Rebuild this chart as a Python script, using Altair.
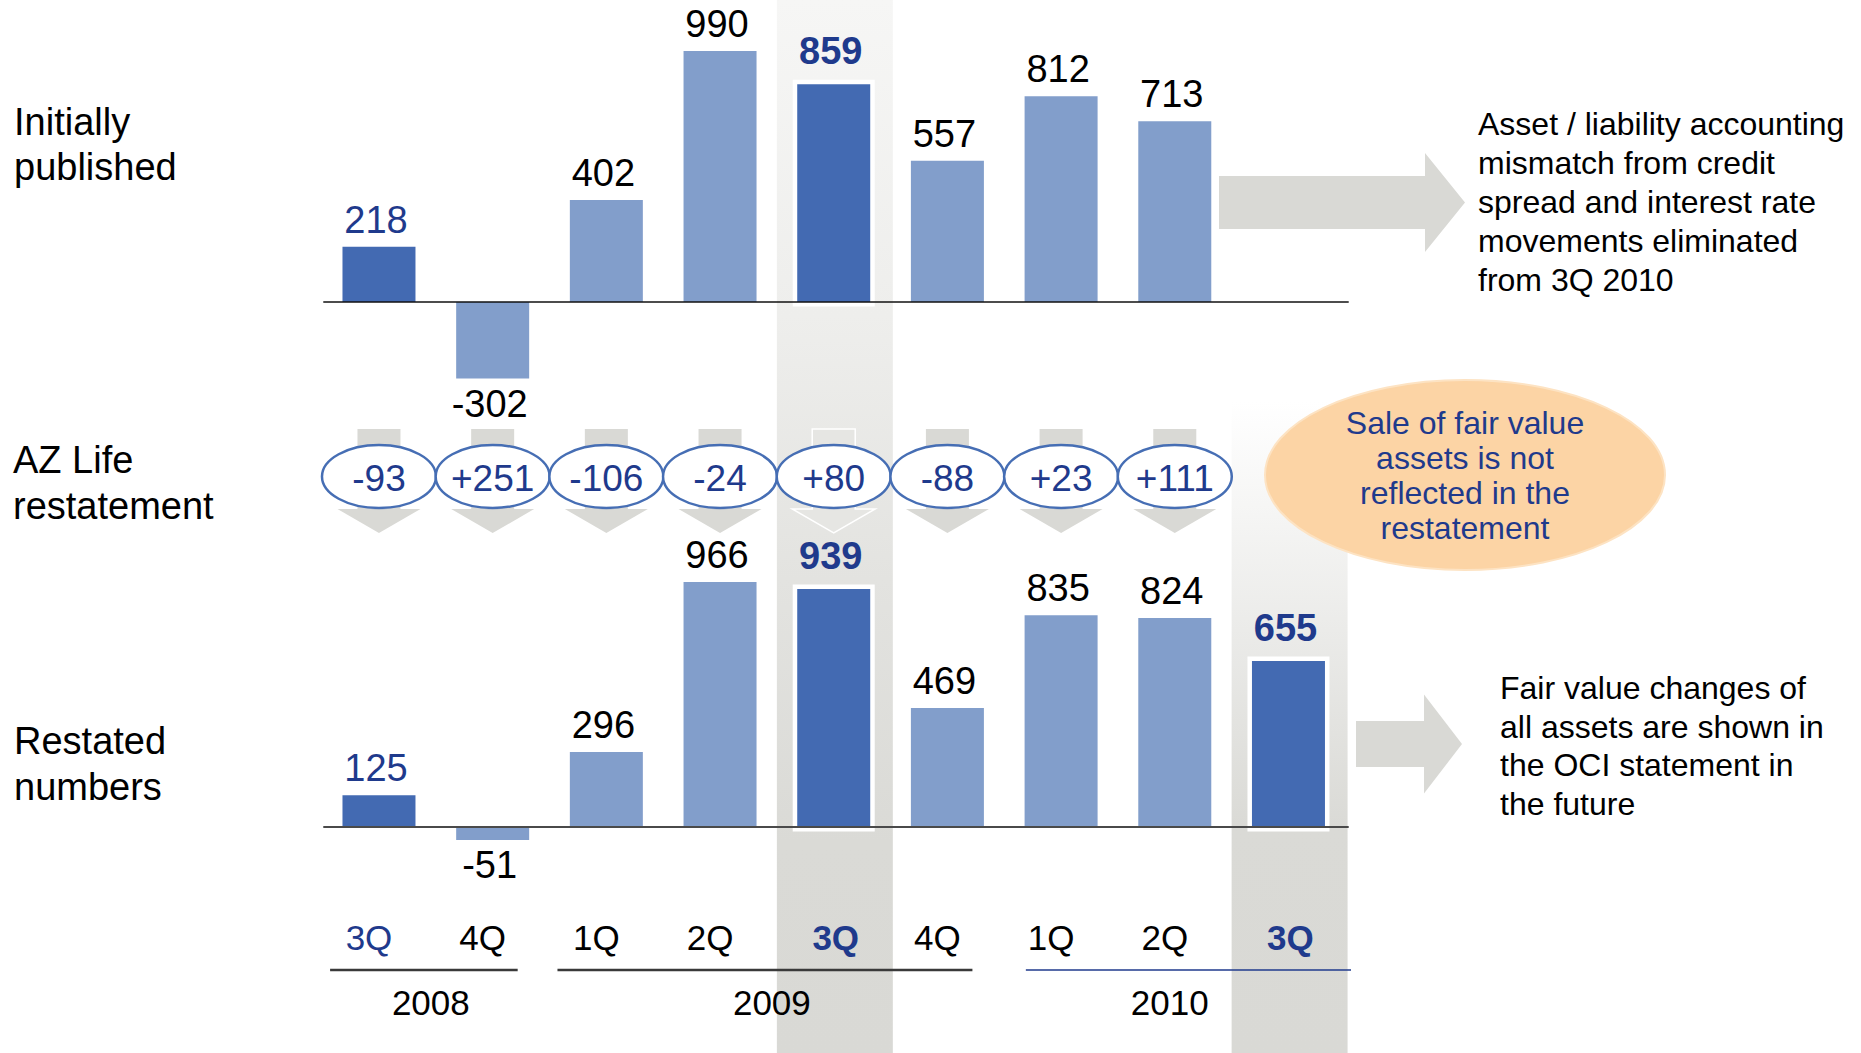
import altair as alt
import pandas as pd

# ---- data -------------------------------------------------------------
quarters = ["3Q", "4Q", "1Q", "2Q", "3Q", "4Q", "1Q", "2Q", "3Q"]
years = ["2008", "2008", "2009", "2009", "2009", "2009", "2010", "2010", "2010"]
initially_published = [218, -302, 402, 990, 859, 557, 812, 713, None]
az_life_restatement = [-93, 251, -106, -24, 80, -88, 23, 111, None]
restated_numbers = [125, -51, 296, 966, 939, 469, 835, 824, 655]
in_focus = [False, False, False, False, True, False, False, False, True]
current_year = "2010"

row_titles = ["Initially\npublished", "AZ Life\nrestatement", "Restated\nnumbers"]
note_top = ("Asset / liability accounting\nmismatch from credit\nspread and interest rate\n"
            "movements eliminated\nfrom 3Q 2010")
note_bubble = "Sale of fair value\nassets is not\nreflected in the\nrestatement"
note_bottom = "Fair value changes of\nall assets are shown in\nthe OCI statement in\nthe future"


def as_label(v, signed=False):
    if v is None:
        return ""
    return f"{int(v):+d}" if signed else str(int(v))


df = pd.DataFrame({
    "i": list(range(len(quarters))),
    "q": quarters,
    "year": years,
    "published": initially_published,
    "restate": az_life_restatement,
    "restated": restated_numbers,
    "focus": in_focus,
    "published_lbl": [as_label(v) for v in initially_published],
    "restate_lbl": [as_label(v, True) for v in az_life_restatement],
    "restated_lbl": [as_label(v) for v in restated_numbers],
})

# ---- styling ----------------------------------------------------------
W, H = 1861, 1053
FONT = "Liberation Sans"
DARK = "#436ab2"
LIGHT = "#829ecb"
NAVY = "#1f3a8c"
ARROW_GRAY = "#d9d9d5"
PEACH = "#fcd4a5"

STEP, X0 = 114.3, 376          # pixel spacing of the quarter slots
PX_PER_UNIT = 0.2535           # shared value scale of both bar panels
TOP_BASE, BOT_BASE = 302, 827  # zero lines of the two panels
# the lower panel sits this many value units below the upper one
PANEL_SHIFT = round((BOT_BASE - TOP_BASE) / PX_PER_UNIT, 3)

x_scale = alt.Scale(domain=[-X0 / STEP, (W - X0) / STEP], nice=False, zero=False)
y_scale = alt.Scale(domain=[-(H - TOP_BASE) / PX_PER_UNIT, TOP_BASE / PX_PER_UNIT],
                    nice=False, zero=False)
X = alt.X("i:Q", scale=x_scale, axis=None)

base = alt.Chart(df)
one_row = alt.Chart(pd.DataFrame({"z": [0]}))


def test(expr):
    return {"test": expr}


IS_3Q = test("datum.q == '3Q'")
IN_FOCUS = test("datum.focus")


def bar_panel(field, shift, rule_color, rule_width):
    src = base.transform_filter(f"isValid(datum.{field})").transform_calculate(
        v=f"datum.{field} - {shift}", base0=f"0 - {shift}"
    )
    Y = alt.Y("v:Q", scale=y_scale, axis=None)
    Y2 = alt.Y2("base0:Q")
    halo = src.transform_filter("datum.focus").mark_bar(
        size=73, fill="white", stroke="white", strokeWidth=9
    ).encode(x=X, y=Y, y2=Y2)
    bars = src.mark_bar(size=73).encode(
        x=X, y=Y, y2=Y2,
        color=alt.condition(IS_3Q, alt.value(DARK), alt.value(LIGHT)),
    )
    # zero line spanning all quarter slots
    zero = base.transform_aggregate(lo="min(i)", hi="max(i)").transform_calculate(
        left="datum.lo - 0.49", right="datum.hi + 0.53", base0=f"0 - {shift}"
    ).mark_rule(color=rule_color, strokeWidth=rule_width).encode(
        x=alt.X("left:Q", scale=x_scale, axis=None), x2=alt.X2("right:Q"),
        y=alt.Y("base0:Q", scale=y_scale, axis=None),
    )
    text_kw = dict(font=FONT, fontSize=38, align="center", baseline="alphabetic", dx=-3)
    lbl_pos = src.transform_filter(f"!datum.focus && datum.{field} >= 0").mark_text(
        dy=-14, **text_kw
    ).encode(x=X, y=Y, text=f"{field}_lbl:N",
             color=alt.condition(IS_3Q, alt.value(NAVY), alt.value("black")))
    lbl_focus = src.transform_filter(f"datum.focus && datum.{field} >= 0").mark_text(
        dy=-20, fontWeight="bold", color=NAVY, **text_kw
    ).encode(x=X, y=Y, text=f"{field}_lbl:N")
    lbl_neg = src.transform_filter(f"datum.{field} < 0").mark_text(
        dy=38, color="black", **text_kw
    ).encode(x=X, y=Y, text=f"{field}_lbl:N")
    return [halo, bars, zero, lbl_pos, lbl_focus, lbl_neg]


def ellipse_path(ry):
    c = 0.5523
    return (f"M1,0C1,{c*ry:.4f} {c:.4f},{ry:.4f} 0,{ry:.4f}"
            f"C{-c:.4f},{ry:.4f} -1,{c*ry:.4f} -1,0"
            f"C-1,{-c*ry:.4f} {-c:.4f},{-ry:.4f} 0,{-ry:.4f}"
            f"C{c:.4f},{-ry:.4f} 1,{-c*ry:.4f} 1,0Z")


def arrow_right(x0, xh, x1, cy, shaft_h, head_h):
    side = max(x1 - x0, head_h)
    u = side / 2
    cx = (x0 + x1) / 2
    pts = [(x0, -shaft_h / 2), (xh, -shaft_h / 2), (xh, -head_h / 2), (x1, 0),
           (xh, head_h / 2), (xh, shaft_h / 2), (x0, shaft_h / 2)]
    path = "M" + "L".join(f"{(x - cx) / u:.4f},{y / u:.4f}" for x, y in pts) + "Z"
    return path, cx, cy, side ** 2


def arrow_down(shaft_w, head_w, total_h, head_h):
    u = total_h / 2
    sw, hw = shaft_w / 2 / u, head_w / 2 / u
    ht = 1 - head_h / u
    return (f"M{-sw:.4f},-1L{sw:.4f},-1L{sw:.4f},{ht:.4f}L{hw:.4f},{ht:.4f}"
            f"L0,1L{-hw:.4f},{ht:.4f}L{-sw:.4f},{ht:.4f}Z")


# ---- highlighted quarter columns ---------------------------------------
def column_shade(year, y_top, stops):
    return base.transform_filter(f"datum.focus && datum.year == '{year}'").transform_calculate(
        lo="datum.i - 0.5", hi="datum.i + 0.52"
    ).mark_rect(
        color={"gradient": "linear", "x1": 0, "x2": 0, "y1": 0, "y2": 1,
               "stops": [{"offset": o, "color": c} for o, c in stops]}
    ).encode(
        x=alt.X("lo:Q", scale=x_scale, axis=None), x2=alt.X2("hi:Q"),
        y=alt.value(y_top), y2=alt.value(H),
    )


shade_2009 = column_shade("2009", 0, [(0, "#f6f6f5"), (0.3, "#eeeeec"), (0.55, "#e3e3e0"),
                                      (0.8, "#dadad6"), (1, "#d9d9d5")])
shade_2010 = column_shade("2010", 402, [(0, "#ffffff"), (0.35, "#ebebe9"),
                                        (0.65, "#dadad6"), (1, "#d9d9d5")])

# ---- restatement row ---------------------------------------------------
restate_src = base.transform_filter("isValid(datum.restate)")
down_arrows = restate_src.mark_point(
    shape=arrow_down(43, 83, 104, 24), size=104 ** 2, filled=True, opacity=1
).encode(
    x=X, y=alt.value(481),
    fill=alt.condition(IN_FOCUS, alt.value("#e6e6e3"), alt.value(ARROW_GRAY)),
    stroke=alt.value("white"),
    strokeWidth=alt.condition(IN_FOCUS, alt.value(1.5), alt.value(0)),
)
ovals = restate_src.mark_point(
    shape=ellipse_path(0.5526), size=114 ** 2, filled=True, opacity=1,
    fill="white", stroke="#466eb4", strokeWidth=2.5,
).encode(x=X, y=alt.value(476.5))
oval_text = restate_src.mark_text(
    font=FONT, fontSize=37, color=NAVY, align="center", baseline="alphabetic"
).encode(x=X, y=alt.value(491), text="restate_lbl:N")

# ---- quarter / year axis -----------------------------------------------
q_kw = dict(font=FONT, fontSize=35, align="center", baseline="alphabetic")
q_labels = base.transform_filter("!datum.focus").mark_text(dx=-10, **q_kw).encode(
    x=X, y=alt.value(950), text="q:N",
    color=alt.condition(IS_3Q, alt.value(NAVY), alt.value("black")),
)
q_labels_focus = base.transform_filter("datum.focus").mark_text(
    dx=2, fontWeight="bold", color=NAVY, **q_kw
).encode(x=X, y=alt.value(950), text="q:N")

years_src = base.transform_aggregate(
    lo="min(i)", hi="max(i)", groupby=["year"]
).transform_calculate(
    left=f"datum.lo - (datum.year == '{current_year}' ? 0.31 : 0.43)",
    right=f"datum.hi + (datum.year == '{current_year}' ? 0.55 : 0.22)",
    mid="(datum.lo + datum.hi) / 2",
)
CUR = test(f"datum.year == '{current_year}'")
year_rules = years_src.mark_rule().encode(
    x=alt.X("left:Q", scale=x_scale, axis=None), x2=alt.X2("right:Q"),
    y=alt.value(970),
    color=alt.condition(CUR, alt.value(NAVY), alt.value("#3a3a3a")),
    strokeWidth=alt.condition(CUR, alt.value(1.5), alt.value(2.5)),
)
year_labels = years_src.mark_text(
    font=FONT, fontSize=35, align="center", baseline="alphabetic", dx=-5, color="black"
).encode(x=alt.X("mid:Q", scale=x_scale, axis=None), y=alt.value(1015), text="year:N")


# ---- annotations ---------------------------------------------------------
def block_arrow(*geom):
    path, cx, cy, size = arrow_right(*geom)
    return one_row.mark_point(
        shape=path, size=size, filled=True, opacity=1, fill=ARROW_GRAY
    ).encode(x=alt.value(cx), y=alt.value(cy))


arrow_top = block_arrow(1219, 1425, 1465, 202.5, 53, 99)
arrow_bottom = block_arrow(1356, 1424, 1462, 744, 46, 99)

bubble = one_row.mark_point(
    shape=ellipse_path(0.475), size=400 ** 2, filled=True, opacity=1,
    fill=PEACH, stroke="#fde3c3", strokeWidth=2,
).encode(x=alt.value(1465), y=alt.value(475))


def note(text, x, y, size, line_h, color="black", align="left"):
    return one_row.mark_text(
        font=FONT, fontSize=size, lineHeight=line_h, lineBreak="\n",
        align=align, baseline="alphabetic", color=color,
    ).encode(x=alt.value(x), y=alt.value(y), text=alt.value(text))


notes = [
    note(row_titles[0], 14, 135, 38, 45),
    note(row_titles[1], 13, 473, 38, 46),
    note(row_titles[2], 14, 754, 38, 46),
    note(note_top, 1478, 135, 32, 39),
    note(note_bubble, 1465, 434, 32, 35, color=NAVY, align="center"),
    note(note_bottom, 1500, 699, 32, 38.5),
]

layers = (
    [shade_2009, shade_2010]
    + bar_panel("published", 0, "#111111", 1.5)
    + [down_arrows, ovals, oval_text]
    + bar_panel("restated", PANEL_SHIFT, "#4a4a4a", 2)
    + [q_labels, q_labels_focus, year_rules, year_labels,
       arrow_top, arrow_bottom, bubble]
    + notes
)

chart = alt.layer(*layers).properties(
    width=W, height=H, padding=0, autosize="none", background="white"
).configure_view(stroke=None)

chart.save("out.html", embed_options={"renderer": "svg", "actions": False})
